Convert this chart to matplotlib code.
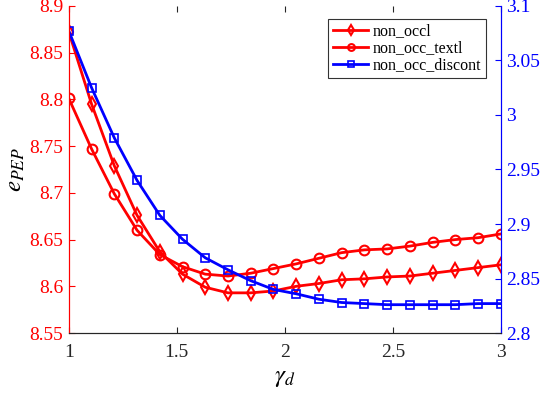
import numpy as np
import matplotlib.pyplot as plt
from matplotlib.ticker import FuncFormatter

# data (20 gamma_d values from 1 to 3)
gamma_d = np.linspace(1, 3, 20)
non_occl = [8.872, 8.795, 8.729, 8.676, 8.637, 8.613, 8.599, 8.593, 8.593, 8.595,
            8.600, 8.603, 8.607, 8.608, 8.610, 8.611, 8.614, 8.617, 8.620, 8.623]
non_occ_textl = [8.801, 8.747, 8.699, 8.660, 8.634, 8.621, 8.613, 8.611, 8.614, 8.619,
                 8.624, 8.630, 8.636, 8.639, 8.640, 8.643, 8.647, 8.650, 8.652, 8.656]
non_occ_discont = [3.077, 3.025, 2.979, 2.940, 2.908, 2.886, 2.869, 2.858, 2.848, 2.840,
                   2.836, 2.831, 2.828, 2.827, 2.826, 2.826, 2.826, 2.826, 2.827, 2.827]

plt.rcParams['font.family'] = 'Liberation Serif'
plt.rcParams['mathtext.fontset'] = 'stix'

fig = plt.figure(figsize=(5.42, 3.96), dpi=100)
ax = fig.add_axes([0.127, 0.159, 0.797, 0.826])
ax2 = ax.twinx()

red = '#ff0000'
blue = '#0000ff'
fmt = FuncFormatter(lambda v, p: '%g' % round(v, 4))

l1, = ax.plot(gamma_d, non_occl, color=red, lw=2, marker='d', ms=7, mfc='none', mew=1.5,
              label='non_occl')
l2, = ax.plot(gamma_d, non_occ_textl, color=red, lw=2, marker='o', ms=7, mfc='none', mew=1.5,
              label='non_occ_textl')
l3, = ax2.plot(gamma_d, non_occ_discont, color=blue, lw=2, marker='s', ms=6, mfc='none', mew=1.2,
               label='non_occ_discont')

ax.set_xlim(1, 3)
ax.set_ylim(8.55, 8.9)
ax2.set_ylim(2.8, 3.1)
ax.set_xticks([1, 1.5, 2, 2.5, 3])
ax.set_yticks(np.arange(8.55, 8.901, 0.05))
ax2.set_yticks(np.arange(2.8, 3.101, 0.05))
ax.xaxis.set_major_formatter(fmt)
ax.yaxis.set_major_formatter(fmt)
ax2.yaxis.set_major_formatter(fmt)

for a in (ax, ax2):
    a.spines['top'].set_visible(False)
    a.spines['left'].set_color(red)
    a.spines['right'].set_color(blue)
    a.spines['bottom'].set_color('#262626')
ax.tick_params(axis='x', direction='in', top=True, labelsize=14, colors='#262626', length=4, pad=8)
ax.tick_params(axis='y', direction='in', colors=red, labelsize=14, length=4, pad=4)
ax2.tick_params(axis='y', direction='in', colors=blue, labelsize=14, length=4, pad=4)

ax.set_xlabel(r'$\gamma_d$', fontsize=18, labelpad=4)
ax.set_ylabel(r'$e_{PEP}$', fontsize=18, labelpad=2)

leg = ax2.legend(handles=[l1, l2, l3], loc='upper right', bbox_to_anchor=(0.985, 0.985),
                 fontsize=11.5, frameon=True, fancybox=False, edgecolor='black',
                 handlelength=2.2, borderpad=0.3, labelspacing=0.05, handletextpad=0.3,
                 markerscale=0.7)
leg.get_frame().set_linewidth(0.8)

fig.savefig('out.png', dpi=100)
